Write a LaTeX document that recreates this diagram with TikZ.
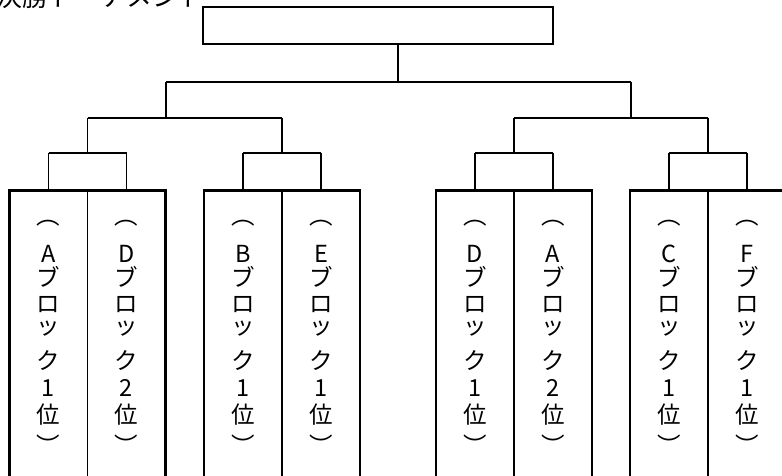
\documentclass[tikz,border=0pt]{standalone}
\usepackage{fontspec}
\setmainfont{Noto Sans CJK JP}
\newcommand\vcolumn[4]{%
  \foreach \ch/\yy [count=\i] in {︵/223,#3/254,ブ/277,ロ/305,ッ/329,ク/361,#4/388,位/415,︶/445}
    {\node[vch] (#1-\i) at (#2,\yy) {\ch};}%
}
\begin{document}
\begin{tikzpicture}[x=1pt,y=-1pt,
  ln/.style={line width=1.2pt},
  blk/.style={draw,line width=2.8pt,minimum width=156pt,minimum height=330pt,anchor=north,inner sep=0pt},
  topbox/.style={draw,line width=2.8pt,minimum width=350pt,minimum height=37pt,inner sep=0pt},
  vch/.style={inner sep=0pt,font=\fontsize{23.5}{23.5}\selectfont},
  ttl/.style={inner sep=0pt,anchor=base west,font=\fontsize{26}{26}\selectfont}]
\useasboundingbox (0,0) rectangle (782,476);
\clip (0,0) rectangle (782,476);
% title (cut at the top edge)
\node[ttl] (title) at (-4,7) {決勝トーナメント};
% top box
\node[topbox] (top) at (378,25.5) {};
% blocks
\node[blk] (b1) at (87.5,189) {};
\node[blk] (b2) at (282,189) {};
\node[blk] (b3) at (514,189) {};
\node[blk] (b4) at (708,189) {};
\foreach \b in {b1,b2,b3,b4}
  \draw[ln] (\b.north) -- (\b.south);
% vertical texts
\vcolumn{c1}{48.5}{A}{1}
\vcolumn{c2}{126.5}{D}{2}
\vcolumn{c3}{243}{B}{1}
\vcolumn{c4}{321}{E}{1}
\vcolumn{c5}{475}{D}{1}
\vcolumn{c6}{553}{A}{2}
\vcolumn{c7}{669}{C}{1}
\vcolumn{c8}{747}{F}{1}
% junction coordinates
\coordinate (stem) at (398,82);
\coordinate (tL) at (166,82);
\coordinate (tR) at (631,82);
\coordinate (mid) at (0,118);
\coordinate (low) at (0,153);
% top level
\draw[ln] (stem |- top.south) -- (stem);
\draw[ln] (tL) -- (tR);
\draw[ln] (tL) -- (tL |- mid);
\draw[ln] (tR) -- (tR |- mid);
% middle level
\draw[ln] (b1.north |- mid) -- (b2.north |- mid);
\draw[ln] (b3.north |- mid) -- (b4.north |- mid);
\foreach \b in {b1,b2,b3,b4}
  \draw[ln] (\b.north |- mid) -- (\b.north |- low);
% lower level
\foreach \l/\r/\b in {c1/c2/b1,c3/c4/b2,c5/c6/b3,c7/c8/b4}{
  \draw[ln] (\l-1 |- low) -- (\r-1 |- low);
  \draw[ln] (\l-1 |- low) -- (\l-1 |- \b.north);
  \draw[ln] (\r-1 |- low) -- (\r-1 |- \b.north);
}
\end{tikzpicture}
\end{document}
